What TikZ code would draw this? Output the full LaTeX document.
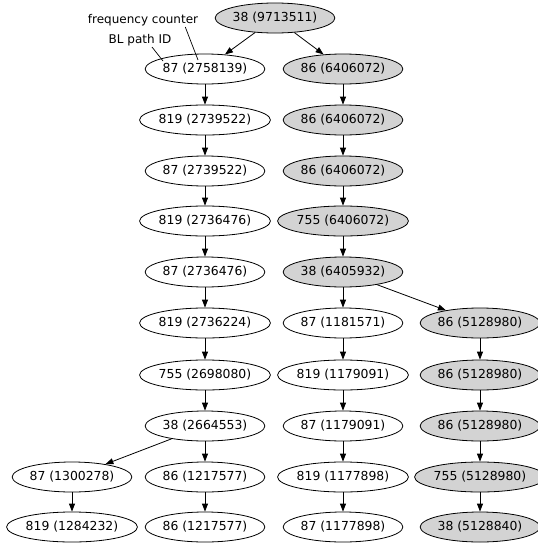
\documentclass[tikz,border=0pt]{standalone}
\usepackage{fontspec}
\setmainfont{DejaVu Sans}
\usetikzlibrary{arrows.meta, shapes.geometric}
\definecolor{hotgray}{HTML}{D3D3D3}

\begin{document}
\begin{tikzpicture}[
      x=1pt, y=-1pt,
      every node/.style={font=\fontsize{12}{14}\selectfont},
      blk/.style={draw, ellipse, line width=0.8pt, inner sep=0pt,
                  minimum height=30pt, fill=#1, font=\fontsize{12.4}{14}\selectfont},
      blk/.default=white,
      note/.style={line width=0.7pt},
      >={Triangle[length=8pt,width=6pt]},
    ]
    \useasboundingbox (0,0) rectangle (538,544);

    % hot path on the right, gray
    \node[blk=hotgray] (root) at (275,18)  {38 (9713511)};
    \node[blk=hotgray] (b1)   at (343,69)  {86 (6406072)};
    \node[blk=hotgray] (b2)   at (343,120) {86 (6406072)};
    \node[blk=hotgray] (b3)   at (343,171) {86 (6406072)};
    \node[blk=hotgray] (b4)   at (343,221) {755 (6406072)};
    \node[blk=hotgray] (b5)   at (343,272) {38 (6405932)};
    \node[blk=hotgray] (c6)   at (480,323) {86 (5128980)};
    \node[blk=hotgray] (c7)   at (480,375) {86 (5128980)};
    \node[blk=hotgray] (c8)   at (480,426) {86 (5128980)};
    \node[blk=hotgray] (c9)   at (480,477) {755 (5128980)};
    \node[blk=hotgray] (c10)  at (480,527) {38 (5128840)};

    % other paths
    \node[blk] (a1)  at (205,69)  {87 (2758139)};
    \node[blk] (a2)  at (205,120) {819 (2739522)};
    \node[blk] (a3)  at (205,171) {87 (2739522)};
    \node[blk] (a4)  at (205,221) {819 (2736476)};
    \node[blk] (a5)  at (205,272) {87 (2736476)};
    \node[blk] (a6)  at (205,323) {819 (2736224)};
    \node[blk] (a7)  at (205,375) {755 (2698080)};
    \node[blk] (a8)  at (205,426) {38 (2664553)};
    \node[blk] (a9)  at (205,477) {86 (1217577)};
    \node[blk] (a10) at (205,527) {86 (1217577)};
    \node[blk] (l9)  at (72,477)  {87 (1300278)};
    \node[blk] (l10) at (72,527)  {819 (1284232)};
    \node[blk] (b6)  at (343,323) {87 (1181571)};
    \node[blk] (b7)  at (343,375) {819 (1179091)};
    \node[blk] (b8)  at (343,426) {87 (1179091)};
    \node[blk] (b9)  at (343,477) {819 (1177898)};
    \node[blk] (b10) at (343,527) {87 (1177898)};

    % legend
    \node[inner sep=1pt] (cnt) at (143,20) {frequency counter};
    \node[inner sep=1pt] (pid) at (140,40) {BL path ID};
    \coordinate (cntpt) at (198,60);
    \coordinate (idpt)  at (163,61);
    \draw[note] ([xshift=-14pt]cnt.south east) -- (cntpt);
    \draw[note] ([xshift=12pt]pid.south) -- (idpt);

    \draw[->, line width=0.8pt] (root) -- (a1);
    \draw[->, line width=0.8pt] (root) -- (b1);
    \draw[->, line width=0.8pt] (a1) -- (a2);
    \draw[->, line width=0.8pt] (a2) -- (a3);
    \draw[->, line width=0.8pt] (a3) -- (a4);
    \draw[->, line width=0.8pt] (a4) -- (a5);
    \draw[->, line width=0.8pt] (a5) -- (a6);
    \draw[->, line width=0.8pt] (a6) -- (a7);
    \draw[->, line width=0.8pt] (a7) -- (a8);
    \draw[->, line width=0.8pt] (a8) -- (l9);
    \draw[->, line width=0.8pt] (a8) -- (a9);
    \draw[->, line width=0.8pt] (l9) -- (l10);
    \draw[->, line width=0.8pt] (a9) -- (a10);
    \draw[->, line width=0.8pt] (b1) -- (b2);
    \draw[->, line width=0.8pt] (b2) -- (b3);
    \draw[->, line width=0.8pt] (b3) -- (b4);
    \draw[->, line width=0.8pt] (b4) -- (b5);
    \draw[->, line width=0.8pt] (b5) -- (b6);
    \draw[->, line width=0.8pt] (b5) -- (c6);
    \draw[->, line width=0.8pt] (b6) -- (b7);
    \draw[->, line width=0.8pt] (b7) -- (b8);
    \draw[->, line width=0.8pt] (b8) -- (b9);
    \draw[->, line width=0.8pt] (b9) -- (b10);
    \draw[->, line width=0.8pt] (c6) -- (c7);
    \draw[->, line width=0.8pt] (c7) -- (c8);
    \draw[->, line width=0.8pt] (c8) -- (c9);
    \draw[->, line width=0.8pt] (c9) -- (c10);
  \end{tikzpicture}
\end{document}
